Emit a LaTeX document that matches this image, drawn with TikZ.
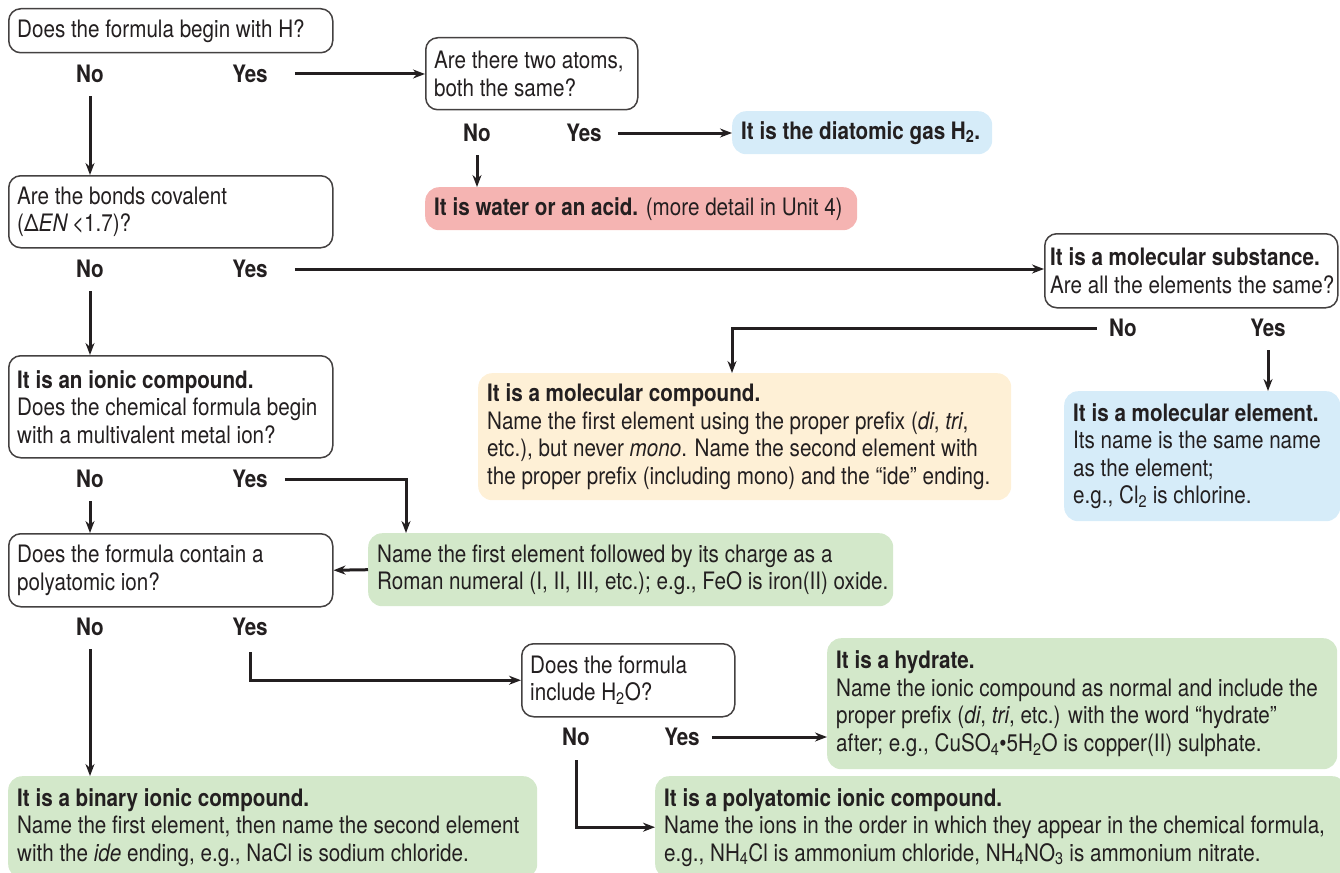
\documentclass[tikz,border=0pt]{standalone}
\usepackage{fontspec}
\setmainfont{TeX Gyre Heros}[FakeStretch=0.86]
\usetikzlibrary{arrows.meta}
\definecolor{ink}{HTML}{231F20}
\definecolor{skyfill}{HTML}{D6ECF9}
\definecolor{rosefill}{HTML}{F5B4B2}
\definecolor{creamfill}{HTML}{FEF0D6}
\definecolor{leaffill}{HTML}{D3E8CA}

\begin{document}
\begin{tikzpicture}[x=1pt,y=-1pt,
    every node/.style={text=ink, font=\fontsize{24}{27.5}\selectfont},
    qbox/.style={draw=ink!85, line width=1.5pt, rounded corners=12pt, fill=white,
      anchor=north west, inner sep=0pt},
    abox/.style={rounded corners=14pt, anchor=north west, inner sep=0pt},
    boxsize/.style 2 args={minimum width=#1, minimum height=#2},
    txt/.style={anchor=west, align=left, inner xsep=9pt, inner ysep=0pt},
    lbl/.style={font=\fontsize{24}{27.5}\selectfont\bfseries, inner sep=0pt},
    flow/.style={draw=ink, line width=3pt, -{Stealth[length=12pt,width=9pt]}}]
    % page 1340 x 872, one unit = one pixel, y downwards
    \useasboundingbox (0,0) rectangle (1340,872);

    % Questions (white boxes)
    \node[qbox, boxsize={324}{44}, label={[txt]west:{Does the formula begin with H?}}] (q1) at (8,8) {};
    \node[qbox, boxsize={212}{72}, label={[txt]west:{Are there two atoms,\\both the same?}}] (q2) at (425,37) {};
    \node[qbox, boxsize={324}{72}, label={[txt]west:{Are the bonds covalent\\(Δ\textit{EN}\,<1.7)?}}] (q3) at (8,175) {};
    \node[qbox, boxsize={293}{74}, label={[txt, inner xsep=6pt]west:{\textbf{It is a molecular substance.}\\Are all the elements the same?}}] (q4) at (1044,233) {};
    \node[qbox, boxsize={324}{102}, label={[txt]west:{\textbf{It is an ionic compound.}\\Does the chemical formula begin\\with a multivalent metal ion?}}] (q5) at (8,355) {};
    \node[qbox, boxsize={324}{73}, label={[txt]west:{Does the formula contain a\\polyatomic ion?}}] (q6) at (8,533) {};
    \node[qbox, boxsize={213}{73}, label={[txt]west:{Does the formula\\include H\textsubscript{2}O?}}] (q7) at (521,643) {};

    % Answers (coloured boxes)
    \node[abox, fill=skyfill, boxsize={260}{43}, label={[txt]west:{\textbf{It is the diatomic gas H\textsubscript{2}.}}}] (h2) at (732,111) {};
    \node[abox, fill=rosefill, boxsize={432}{43}, label={[txt]west:{\textbf{It is water or an acid.} (more detail in Unit 4)}}] (acid) at (425,187) {};
    \node[abox, fill=creamfill, boxsize={533}{127}, label={[txt]west:{\textbf{It is a molecular compound.}\\Name the first element using the proper prefix (\textit{di}, \textit{tri},\\etc.), but never \textit{mono}. Name the second element with\\the proper prefix (including mono) and the “ide” ending.}}] (molcomp) at (478,373) {};
    \node[abox, fill=skyfill, boxsize={276}{130}, label={[txt]west:{\textbf{It is a molecular element.}\\Its name is the same name\\as the element;\\e.g., Cl\textsubscript{2} is chlorine.}}] (molel) at (1064,391) {};
    \node[abox, fill=leaffill, boxsize={525}{73}, label={[txt]west:{Name the first element followed by its charge as a\\Roman numeral (I, II, III, etc.); e.g., FeO is iron(II) oxide.}}] (roman) at (368,533) {};
    \node[abox, fill=leaffill, boxsize={510}{131}, label={[txt]west:{\textbf{It is a hydrate.}\\Name the ionic compound as normal and include the\\proper prefix (\textit{di}, \textit{tri}, etc.) with the word “hydrate”\\after; e.g., CuSO\textsubscript{4}•5H\textsubscript{2}O is copper(II) sulphate.}}] (hydrate) at (827,638) {};
    \node[abox, fill=leaffill, boxsize={529}{102}, label={[txt]west:{\textbf{It is a binary ionic compound.}\\Name the first element, then name the second element\\with the \textit{ide} ending, e.g., NaCl is sodium chloride.}}] (binary) at (8,776) {};
    \node[abox, fill=leaffill, boxsize={691}{102}, label={[txt]west:{\textbf{It is a polyatomic ionic compound.}\\Name the ions in the order in which they appear in the chemical formula,\\e.g., NH\textsubscript{4}Cl is ammonium chloride, NH\textsubscript{4}NO\textsubscript{3} is ammonium nitrate.}}] (poly) at (655,776) {};

    % No / Yes
    \node[lbl] (q1no) at (90,74) {No};     \node[lbl] (q1yes) at (250,74) {Yes};
    \node[lbl] (q2no) at (477,133) {No};   \node[lbl] (q2yes) at (584,133) {Yes};
    \node[lbl] (q3no) at (90,269) {No};    \node[lbl] (q3yes) at (250,269) {Yes};
    \node[lbl] (q4no) at (1123,328) {No};  \node[lbl] (q4yes) at (1268,328) {Yes};
    \node[lbl] (q5no) at (90,479) {No};    \node[lbl] (q5yes) at (250,479) {Yes};
    \node[lbl] (q6no) at (90,627) {No};    \node[lbl] (q6yes) at (250,627) {Yes};
    \node[lbl] (q7no) at (576,737) {No};   \node[lbl] (q7yes) at (682,737) {Yes};

    % Connectors
    \draw[flow] ([xshift=27pt]q1yes.east) -- (q2.west |- q1yes.east);
    \draw[flow] ([yshift=-13pt]q1no.south) -- (q1no |- q3.north);
    \draw[flow] ([xshift=16pt]q2yes.east) -- (h2.west |- q2yes.east);
    \draw[flow] ([yshift=-13pt]q2no.south) -- (q2no |- acid.north);
    \draw[flow] ([xshift=27pt]q3yes.east) -- (q4.west |- q3yes.east);
    \draw[flow] ([yshift=-13pt]q3no.south) -- (q3no |- q5.north);
    \draw[flow] ([xshift=-12pt]q4no.west) -| ([xshift=254pt]molcomp.north west);
    \draw[flow] ([yshift=-13pt]q4yes.south) -- (q4yes |- molel.north);
    \draw[flow] ([yshift=-13pt]q5no.south) -- (q5no |- q6.north);
    \draw[flow] ([xshift=17pt]q5yes.east) -| ([xshift=38pt]roman.north west);
    \draw[flow] (roman.west) -- (q6.east);
    \draw[flow] ([yshift=-13pt]q6no.south) -- (q6no |- binary.north);
    \draw[flow] ([yshift=-16pt]q6yes.south) |- (q7.west);
    \draw[flow] ([xshift=12pt]q7yes.east) -- (hydrate.west |- q7yes.east);
    \draw[flow] ([yshift=-14pt]q7no.south) |- (poly.west);
\end{tikzpicture}
\end{document}
